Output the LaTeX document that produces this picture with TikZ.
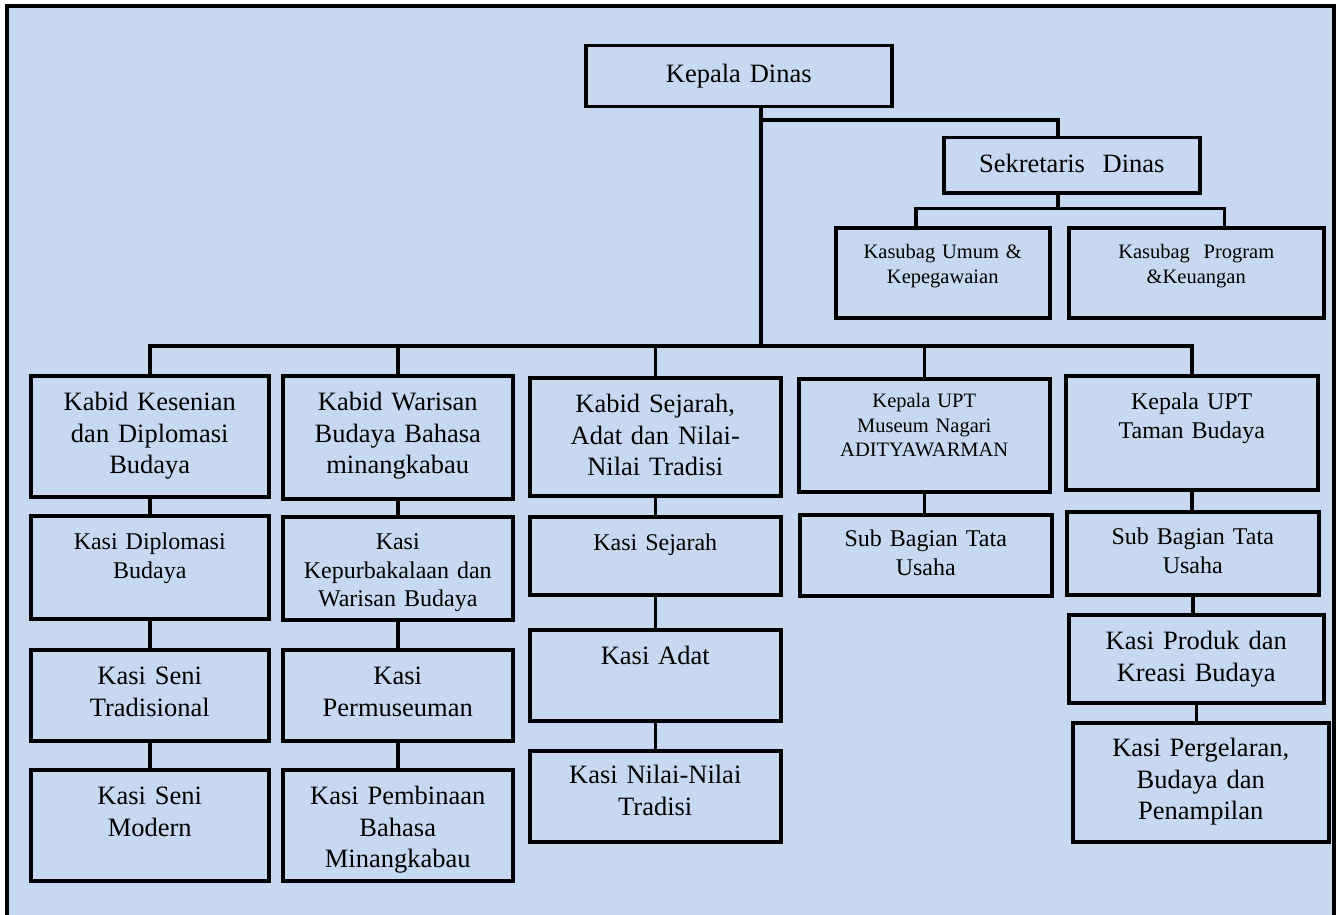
\documentclass[tikz,border=0pt]{standalone}
\usepackage{fontspec}
\setmainfont{Liberation Serif}
\usetikzlibrary{positioning, calc}
\definecolor{chartblue}{RGB}{198,217,240}

\begin{document}
\begin{tikzpicture}[
        x=1pt, y=-1pt,
        box/.style n args={3}{draw=black, line width=3.5pt, fill=chartblue, inner sep=0pt, anchor=north west,
            text width=#1pt, align=center, text height=#3pt, text depth=#2pt-#3pt},
        big/.style={font=\fontsize{26.5}{31.5}\selectfont},
        mid/.style={font=\fontsize{24}{28.5}\selectfont},
        small/.style={font=\fontsize{20.5}{24.5}\selectfont},
        link/.style={line width=3.5pt}
    ]
        \useasboundingbox (0,0) rectangle (1341,915);
        \draw[line width=3.5pt, fill=chartblue] (7,6) rectangle (1334,940);

        % top of the chart
        \node[box={306}{61}{37}, big] (kadis) at (584,44) {Kepala Dinas};
        \node[box={256}{55}{35}, big] (sekdis) at (942,136) {Sekretaris~ Dinas};
        \node[box={214}{90}{31}, small] (kasumum) at (834,226) {Kasubag Umum \&\\Kepegawaian};
        \node[box={255}{90}{31}, small] (kasprog) at (1067,226) {Kasubag~ Program\\\&Keuangan};

        % heads of the five branches
        \node[box={238}{121}{35}, big] (kabidseni) at (29,374) {Kabid Kesenian\\dan Diplomasi\\Budaya};
        \node[box={230}{123}{35}, big] (kabidwaris) at (281,374) {Kabid Warisan\\Budaya Bahasa\\minangkabau};
        \node[box={251}{118}{35}, big] (kabidsejarah) at (528,376) {Kabid Sejarah,\\Adat dan Nilai-\\Nilai Tradisi};
        \node[box={251}{113}{29}, small] (uptmuseum) at (797,377) {Kepala UPT\\Museum Nagari\\ADITYAWARMAN};
        \node[box={252}{114}{34}, mid] (upttaman) at (1064,374) {Kepala UPT\\Taman Budaya};

        % sections
        \node[box={238}{103}{34}, mid] (kasidiplo) at (29,514) {Kasi Diplomasi\\Budaya};
        \node[box={230}{103}{33}, mid] (kasipurba) at (281,515) {Kasi\\Kepurbakalaan dan\\Warisan Budaya};
        \node[box={251}{78}{34}, mid] (kasisejarah) at (528,515) {Kasi Sejarah};
        \node[box={252}{81}{32}, mid] (subbagmuseum) at (798,513) {Sub Bagian Tata\\Usaha};
        \node[box={252}{83}{33}, mid] (subbagtaman) at (1065,510) {Sub Bagian Tata\\Usaha};

        \node[box={238}{91}{35}, big] (kasitradisi) at (29,648) {Kasi Seni\\Tradisional};
        \node[box={230}{91}{35}, big] (kasimuseum) at (281,648) {Kasi\\Permuseuman};
        \node[box={251}{91}{35}, big] (kasiadat) at (528,628) {Kasi Adat};
        \node[box={255}{88}{35}, big] (kasiproduk) at (1067,613) {Kasi Produk dan\\Kreasi Budaya};

        \node[box={238}{111}{35}, big] (kasimodern) at (29,768) {Kasi Seni\\Modern};
        \node[box={230}{111}{35}, big] (kasibahasa) at (281,768) {Kasi Pembinaan\\Bahasa\\Minangkabau};
        \node[box={251}{91}{33}, big] (kasinilai) at (528,749) {Kasi Nilai-Nilai\\Tradisi};
        \node[box={256}{119}{34}, big] (kasipergelaran) at (1071,721) {Kasi Pergelaran,\\Budaya dan\\Penampilan};

        % connectors
        \coordinate (trunk) at (761,346);
        \coordinate (fork) at (761,120);
        \draw[link] (kadis.south -| trunk) -- (trunk);
        \draw[link] (fork) -| ([xshift=-14pt]sekdis.north);
        \draw[link] ([xshift=-14pt]sekdis.south) -- ++(0,14) coordinate (subfork);
        \draw[link] ([xshift=-27pt]kasumum.north) |- (subfork) -| ([xshift=28pt]kasprog.north);
        \draw[link] (kabidseni.north) |- (trunk) -| (upttaman.north);
        \foreach \n in {kabidwaris, kabidsejarah, uptmuseum}
            \draw[link] (\n.north) -- (\n.north |- trunk);
        \foreach \a/\b in {kabidseni/kasidiplo, kasidiplo/kasitradisi, kasitradisi/kasimodern,
                kabidwaris/kasipurba, kasipurba/kasimuseum, kasimuseum/kasibahasa,
                kabidsejarah/kasisejarah, kasisejarah/kasiadat, kasiadat/kasinilai,
                uptmuseum/subbagmuseum,
                upttaman/subbagtaman, subbagtaman/kasiproduk, kasiproduk/kasipergelaran}
            \draw[link] (\a.south) -- (\a.south |- \b.north);
    \end{tikzpicture}
\end{document}
